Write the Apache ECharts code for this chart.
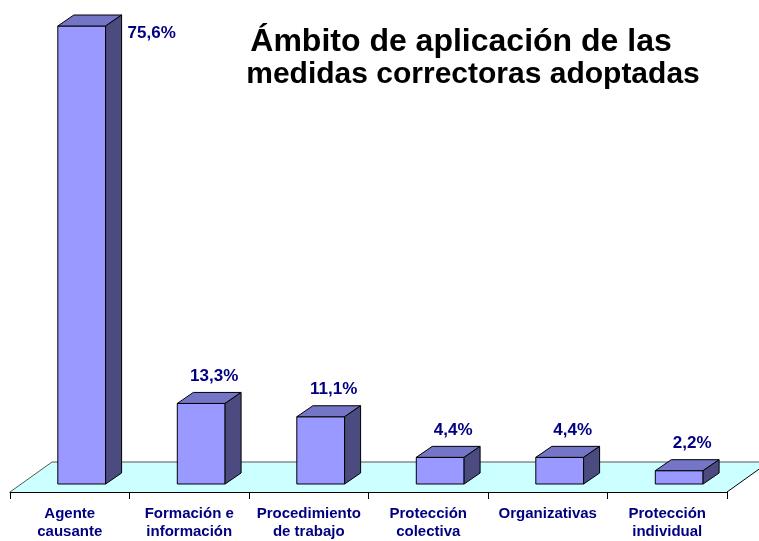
<!DOCTYPE html>
<html>
<head>
<meta charset="utf-8">
<script src="https://cdn.jsdelivr.net/npm/echarts@6/dist/echarts.min.js"></script>
<style>
  html, body { margin: 0; padding: 0; background: #fff; }
  #chart { width: 759px; height: 541px; }
</style>
</head>
<body>
<div id="chart"></div>
<script>
// datos del gráfico
const categories = ['Agente\ncausante', 'Formación e\ninformación', 'Procedimiento\nde trabajo', 'Protección\ncolectiva', 'Organizativas', 'Protección\nindividual'];
const values = [75.6, 13.3, 11.1, 4.4, 4.4, 2.2];
const titleLines = ['Ámbito de aplicación de las', 'medidas correctoras adoptadas'];

const FONT = 'Arial, "Liberation Sans", sans-serif';
const DEPTH_X = 16, DEPTH_Y = 11;     // profundidad de cada barra
const FLOOR_X = 42, FLOOR_Y = 30;     // profundidad del suelo
const LIFT = 8;                       // las barras se apoyan un poco detrás del borde frontal

const chart = echarts.init(document.getElementById('chart'));

// suelo cian en perspectiva (el borde frontal lo pone el eje)
function renderFloor(params, api) {
    const cs = params.coordSys;
    const fy = cs.y + cs.height;
    const x0 = cs.x, x1 = cs.x + cs.width;
    return {
        type: 'group',
        children: [
            {
                type: 'polygon',
                shape: { points: [[x0, fy], [x1, fy], [x1 + FLOOR_X, fy - FLOOR_Y], [x0 + FLOOR_X, fy - FLOOR_Y]] },
                style: { fill: '#CCFFFF' }
            },
            {
                type: 'polyline',
                shape: { points: [[x0, fy], [x0 + FLOOR_X, fy - FLOOR_Y], [x1 + FLOOR_X, fy - FLOOR_Y]] },
                style: { fill: null, stroke: '#555', lineWidth: 1 }
            },
            {
                type: 'line',
                shape: { x1: x1, y1: fy, x2: x1 + FLOOR_X, y2: fy - FLOOR_Y },
                style: { stroke: '#000', lineWidth: 1 }
            }
        ]
    };
}

// barra 3D: frente, tapa, lateral y etiqueta
function renderBar(params, api) {
    const idx = api.value(0);
    const base = api.coord([idx, 0]);
    const top = api.coord([idx, api.value(1)]);
    const band = api.size([1, 0])[0];
    const x0 = base[0] - band * 0.1;
    const x1 = x0 + band * 0.4;
    const ty = top[1] - LIFT, by = base[1] - LIFT;
    const stroke = { stroke: '#000', lineWidth: 1 };
    const txt = values[params.dataIndex].toFixed(1).replace('.', ',') + '%';

    let label;
    if (ty - DEPTH_Y - 30 < 0) {
        // no cabe encima: a la derecha
        label = { x: x1 + DEPTH_X + 6, y: ty + 7, align: 'left', verticalAlign: 'middle' };
    } else {
        label = { x: (x0 + x1) / 2 + 13, y: ty - DEPTH_Y - 8, align: 'center', verticalAlign: 'bottom' };
    }

    return {
        type: 'group',
        children: [
            {
                type: 'rect',
                shape: { x: x0, y: ty, width: x1 - x0, height: by - ty },
                style: Object.assign({ fill: '#9999FF' }, stroke)
            },
            {
                type: 'polygon',
                shape: { points: [[x0, ty], [x1, ty], [x1 + DEPTH_X, ty - DEPTH_Y], [x0 + DEPTH_X, ty - DEPTH_Y]] },
                style: Object.assign({ fill: '#7575C8' }, stroke)
            },
            {
                type: 'polygon',
                shape: { points: [[x1, ty], [x1 + DEPTH_X, ty - DEPTH_Y], [x1 + DEPTH_X, by - DEPTH_Y], [x1, by]] },
                style: Object.assign({ fill: '#4B4B80' }, stroke)
            },
            {
                type: 'text',
                x: label.x,
                y: label.y,
                style: {
                    text: txt,
                    fill: '#000080',
                    font: 'bold 17px ' + FONT,
                    align: label.align,
                    verticalAlign: label.verticalAlign
                }
            }
        ]
    };
}

const option = {
    animation: false,
    title: [
        {
            text: titleLines[0],
            left: 456, top: 21, textAlign: 'center',
            textStyle: { fontFamily: FONT, fontSize: 32, fontWeight: 'bold', color: '#000' }
        },
        {
            text: titleLines[1],
            left: 468, top: 55, textAlign: 'center',
            textStyle: { fontFamily: FONT, fontSize: 30, fontWeight: 'bold', color: '#000' }
        }
    ],
    grid: { left: 10, right: 32, top: 34, bottom: 46 },
    xAxis: {
        type: 'category',
        data: categories,
        axisLine: { lineStyle: { color: '#000', width: 1 } },
        axisTick: { show: true, inside: false, length: 7, lineStyle: { color: '#000' } },
        axisLabel: {
            interval: 0,
            margin: 13,
            color: '#000080',
            fontFamily: FONT,
            fontWeight: 'bold',
            fontSize: 15,
            lineHeight: 18
        },
        z: 5
    },
    yAxis: { type: 'value', min: 0, max: 75.6, show: false },
    series: [
        {
            type: 'custom',
            renderItem: renderFloor,
            data: [[0]],
            clip: false,
            silent: true,
            z: 1
        },
        {
            type: 'custom',
            renderItem: renderBar,
            data: values.map((v, i) => [i, v]),
            clip: false,
            z: 2
        }
    ]
};

chart.setOption(option);
</script>
</body>
</html>
